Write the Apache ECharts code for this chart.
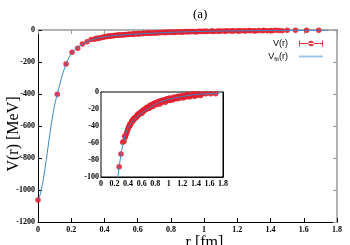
<!DOCTYPE html>
<html><head><meta charset="utf-8">
<script src="https://cdn.jsdelivr.net/npm/echarts@6/dist/echarts.min.js"></script>
<style>html,body{margin:0;padding:0;background:#fff}#c{width:350px;height:245px}</style>
</head><body><div id="c"></div>
<script>
// lattice data V(r)
const dataR = [0,0.116,0.169,0.205,0.239,0.267,0.295,0.32,0.34,0.35,0.36,
0.37,0.38,0.39,0.40,0.41,0.42,0.425,0.43,0.44,0.45,0.455,0.46,0.47,0.48,0.485,0.49,0.50,0.51,0.515,0.52,0.53,0.54,0.545,0.55,0.56,0.57,0.575,0.58,0.59,0.60,0.605,0.61,0.62,0.63,0.635,0.64,0.65,0.66,0.665,0.67,0.68,0.69,0.70,0.71,0.715,0.72,0.73,0.74,0.75,0.76,0.765,0.77,0.78,0.79,0.80,0.81,0.82,0.83,0.84,0.85,0.86,0.87,0.88,0.89,0.90,0.91,0.92,0.93,0.94,0.95,0.96,0.97,0.98,0.99,1.00,1.01,1.02,1.04,1.05,1.06,1.08,1.09,1.10,1.12,1.13,1.14,1.16,1.17,1.18,1.20,1.21,1.22,1.24,1.25,1.27,1.28,1.30,1.31,1.33,1.35,1.36,1.38,1.40,1.41,1.43,1.45,1.47,1.50,1.55,1.617,1.69];
const dataV = [-1062,-402,-212,-139,-114,-88,-73,-59,-58,-52,-53,
-50,-48,-45,-43,-41,-40,-38,-39,-37,-36,-34,-35,-33,-33,-31,-32,-31,-30,-29,-30,-28,-28,-26,-27,-26,-25,-26,-24,-24,-23,-25,-22,-23,-21,-22,-21,-20,-21,-19,-20,-18,-19,-18,-17,-19,-16,-17,-15,-16,-15,-17,-14,-15,-13,-14,-13,-15,-12,-13,-11,-12,-14,-11,-10,-12,-10,-11,-9,-10,-12,-9,-8,-10,-8,-9,-7,-10,-8,-7,-9,-6,-8,-7,-6,-8,-5,-7,-5,-6,-4,-7,-5,-4,-6,-3,-5,-4,-6,-3,-4,-2,-5,-3,-4,-2,-3,-4,-2,-2,-2,-2];
// fit curve V_fit(r)
const fitR = [0,0.01,0.02,0.03,0.04,0.05,0.06,0.07,0.08,0.09,0.10,0.11,0.12,0.13,0.14,0.15,0.16,0.17,0.18,0.19,0.20,0.22,0.24,0.26,0.28,0.30,0.32,0.34,0.36,0.38,0.40,0.45,0.50,0.55,0.60,0.65,0.70,0.75,0.80,0.85,0.90,0.95,1.00,1.05,1.10,1.15,1.20,1.25,1.30,1.35,1.40,1.45,1.50,1.55,1.60,1.65,1.70,1.75];
const fitV = [-1060,-1040,-1000,-945,-880,-810,-735,-660,-590,-525,-470,-425,-385,-345,-305,-270,-238,-210,-186,-165,-148,-124,-107,-93,-81,-71,-63,-56,-50,-46,-42,-36,-31.5,-28,-25,-22,-19.5,-17,-14.5,-12.5,-11,-9.8,-8.6,-7.6,-6.7,-5.9,-5.2,-4.6,-3.9,-3.4,-3.0,-2.7,-2.4,-2.2,-2.0,-1.8,-1.7,-1.6];
// axis ticks
const xTicks = {min:0, max:1.8, interval:0.2};
const yMain = {min:-1200, max:0, interval:200};
const yInset = {min:-100, max:0, interval:20};

const pts = dataR.map((r,i)=>[r,dataV[i]]);
const fit = fitR.map((r,i)=>[r,fitV[i]]);
const RED = '#e3202f', BLUE = '#3d86c6';
const fmt = v => String(Math.round(v*10)/10);
const lab = {fontFamily:'Liberation Serif', fontWeight:'bold', fontSize:8, color:'#000', formatter:fmt};

const chart = echarts.init(document.getElementById('c'), null, {renderer:'canvas'});
chart.setOption({
  animation:false,
  backgroundColor:'#fff',
  title:{text:'(a)', left:188, top:3, textStyle:{fontFamily:'Liberation Serif', fontWeight:'normal', fontSize:13, color:'#000'}},
  legend:[
    {data:['V(r)'], right:22, top:34, align:'right', itemWidth:24, itemHeight:6, itemGap:4,
     icon:'path://M0,3.5h24v1h-24zM0,1h1v6h-1zM23,1h1v6h-1zM12,1.2a2.8,2.8,0,1,0,0.01,0z',
     textStyle:{fontFamily:'Liberation Sans', fontSize:9, color:'#000', padding:[0,6,0,0]}},
    {data:['V_fit(r)'], right:22, top:47, align:'right', itemWidth:24, itemHeight:2, icon:'rect',
     formatter:()=>'{n|V}{s|fit}{n|(r)}',
     textStyle:{fontFamily:'Liberation Sans', fontSize:9, color:'#000', padding:[0,6,0,0],
       rich:{n:{fontFamily:'Liberation Sans', fontSize:9, color:'#000'}, s:{fontFamily:'Liberation Sans', fontSize:6, color:'#000', padding:[5,0,0,0]}}}}
  ],
  grid:[
    {left:38, top:30, width:299, height:192, containLabel:false, outerBoundsMode:'none'},
    {left:101, top:92, width:122, height:85, show:true, backgroundColor:'#fff', borderColor:'#000', borderWidth:1, z:5, containLabel:false, outerBoundsMode:'none'}
  ],
  xAxis:[
    {gridIndex:0, type:'value', ...xTicks, position:'bottom', axisLine:{onZero:false, lineStyle:{color:'#000'}},
     axisTick:{inside:true, length:4, lineStyle:{color:'#000'}}, axisLabel:{...lab, margin:4}, splitLine:{show:false},
     name:'r [fm]', nameLocation:'middle', nameGap:13, nameMoveOverlap:false,
     nameTextStyle:{fontFamily:'Liberation Serif', fontSize:16, color:'#000', verticalAlign:'top', padding:[0,0,0,34]}},
    {gridIndex:1, type:'value', ...xTicks, position:'bottom', axisLine:{onZero:false, lineStyle:{color:'#000'}},
     axisTick:{inside:true, length:3, lineStyle:{color:'#000'}}, axisLabel:{...lab, margin:3},
     splitLine:{show:true, lineStyle:{color:'#ccc', type:'dashed', width:0.8}}},
    {gridIndex:0, type:'value', ...xTicks, position:'top', axisLine:{onZero:false, lineStyle:{color:'#999', width:1.5}},
     axisTick:{inside:true, length:4, lineStyle:{color:'#999'}}, axisLabel:{show:false}, splitLine:{show:false}},
    {gridIndex:1, type:'value', ...xTicks, position:'top', axisLine:{onZero:false, lineStyle:{color:'#000'}},
     axisTick:{inside:true, length:3, lineStyle:{color:'#000'}}, axisLabel:{show:false}, splitLine:{show:false}}
  ],
  yAxis:[
    {gridIndex:0, type:'value', ...yMain, position:'left', axisLine:{show:true, onZero:false, lineStyle:{color:'#000'}},
     axisTick:{show:true, inside:true, length:4, lineStyle:{color:'#000'}}, axisLabel:{...lab, margin:3}, splitLine:{show:false},
     name:'V(r) [MeV]', nameLocation:'middle', nameGap:24, nameMoveOverlap:false,
     nameTextStyle:{fontFamily:'Liberation Serif', fontSize:16, color:'#000', verticalAlign:'middle', padding:[0,16,0,0]}},
    {gridIndex:1, type:'value', ...yInset, position:'left', axisLine:{show:true, onZero:false, lineStyle:{color:'#000'}},
     axisTick:{show:true, inside:true, length:3, lineStyle:{color:'#000'}}, axisLabel:{...lab, margin:2},
     splitLine:{show:true, lineStyle:{color:'#ccc', type:'dashed', width:0.8}}},
    {gridIndex:0, type:'value', ...yMain, position:'right', axisLine:{show:true, onZero:false, lineStyle:{color:'#999', width:1.5}},
     axisTick:{show:true, inside:true, length:4, lineStyle:{color:'#999'}}, axisLabel:{show:false}, splitLine:{show:false}},
    {gridIndex:1, type:'value', ...yInset, position:'right', axisLine:{show:true, onZero:false, lineStyle:{color:'#000'}},
     axisTick:{show:true, inside:true, length:3, lineStyle:{color:'#000'}}, axisLabel:{show:false}, splitLine:{show:false}}
  ],
  series:[
    {name:'V(r)', type:'scatter', xAxisIndex:0, yAxisIndex:0, data:pts, symbolSize:5.5,
     itemStyle:{color:RED, opacity:0.9}, z:3},
    {name:'V_fit(r)', type:'line', xAxisIndex:0, yAxisIndex:0, data:fit, smooth:0.3, showSymbol:false, symbol:'none',
     lineStyle:{color:BLUE, width:1}, itemStyle:{color:'#9fc6ea'}, z:4},
    {name:'V(r)', type:'scatter', xAxisIndex:1, yAxisIndex:1, data:pts, symbolSize:5.5, clip:true,
     itemStyle:{color:RED, opacity:0.9}, z:6},
    {name:'V_fit(r)', type:'line', xAxisIndex:1, yAxisIndex:1, data:fit, smooth:0.3, showSymbol:false, symbol:'none', clip:true,
     lineStyle:{color:BLUE, width:1}, itemStyle:{color:'#9fc6ea'}, z:7}
  ]
});
</script></body></html>
